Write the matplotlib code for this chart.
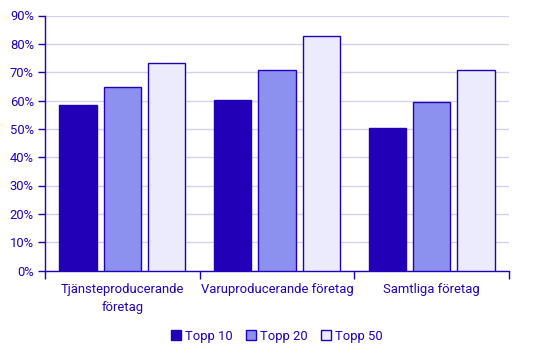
import numpy as np
import matplotlib.pyplot as plt
from matplotlib.ticker import PercentFormatter

# Data
kategorier = ["Tjänsteproducerande\nföretag", "Varuproducerande företag", "Samtliga företag"]
topp10 = [58.4, 60.2, 50.3]
topp20 = [64.6, 70.7, 59.4]
topp50 = [73.1, 82.6, 70.7]

serier = ["Topp 10", "Topp 20", "Topp 50"]
farger = ["#2200b8", "#8c91f0", "#ebebfd"]
kant = "#2200b8"

plt.rcParams.update({'font.family': 'Roboto', 'font.size': 9.4})

fig = plt.figure(figsize=(5.44, 3.57), dpi=100)
ax = fig.add_axes([45/544, 1 - 270.5/357, 464/544, 255/357])

x = np.arange(len(kategorier))
bredd = 0.24
offs = 0.287
for i, (vals, namn, f) in enumerate(zip([topp10, topp20, topp50], serier, farger)):
    ax.bar(x + (i - 1) * offs, vals, bredd, color=f, edgecolor=kant, linewidth=1, label=namn, zorder=3)

ax.set_xlim(-0.5, len(kategorier) - 0.5)
ax.set_ylim(0, 90)
ax.set_yticks(np.arange(0, 91, 10))
ax.yaxis.set_major_formatter(PercentFormatter(decimals=0))
ax.grid(axis='y', color='#d2d2f0', linewidth=1, zorder=0)

ax.set_xticks(np.arange(len(kategorier) + 1) - 0.5, minor=False)
ax.set_xticklabels([])
ax.set_xticks(x, minor=True)
ax.set_xticklabels(kategorier, minor=True, linespacing=1.45)
ax.tick_params(axis='x', which='minor', length=0, pad=9, colors=kant)
ax.tick_params(axis='x', which='major', length=6, width=1, color=kant)
ax.tick_params(axis='y', length=5, width=1, color=kant, labelcolor=kant, pad=3)

for s in ['top', 'right']:
    ax.spines[s].set_visible(False)
for s in ['left', 'bottom']:
    ax.spines[s].set_color(kant)
    ax.spines[s].set_linewidth(1)

ax.legend(loc='center', bbox_to_anchor=(0.5, -0.257), ncol=3, frameon=False,
          handlelength=0.8, handleheight=0.8, handletextpad=0.3, columnspacing=1.0,
          labelcolor=kant)

fig.savefig("out.png", dpi=100)
